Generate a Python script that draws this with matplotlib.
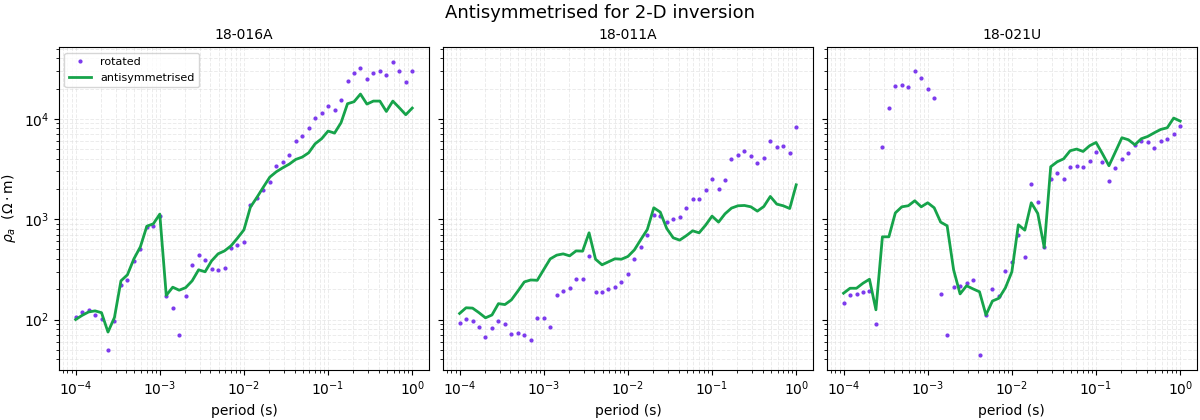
import numpy as np
import matplotlib
matplotlib.use("Agg")
import matplotlib.pyplot as plt

# ── data ──────────────────────────────────────────────────────
period = np.logspace(-4, 0, 53)   # 13 periods per decade
sites = ["18-016A", "18-011A", "18-021U"]

rot_016A = [106, 119, 124, 111, 102, 50, 97, 222, 249, 384, 503, 840, 859, 1072,
            172, 131, 70, 172, 351, 441, 393, 320, 313, 327, 518, 555, 594, 1390,
            1633, 1960, 2355, 3400, 3727, 4377, 6035, 6770, 8135, 10240, 11480,
            13490, 12300, 15460, 23900, 28720, 32220, 25050, 28720, 30080, 27460,
            37000, 30080, 23390, 30080]
anti_016A = [100, 110, 119, 122, 117, 75, 105, 243, 279, 402, 530, 851, 898, 1122,
             174, 210, 196, 208, 243, 313, 299, 384, 451, 483, 542, 647, 783, 1318,
             1645, 2084, 2624, 2965, 3251, 3533, 3935, 4150, 4582, 5636, 6325,
             7540, 7200, 9130, 14120, 14770, 17620, 14000, 15000, 15000, 11830,
             15000, 12880, 10970, 12780]

rot_011A = [93, 102, 97, 85, 67, 83, 97, 91, 72, 74, 70, 63, 104, 104, 85, 176,
            193, 207, 254, 254, 431, 189, 189, 202, 212, 237, 285, 403, 530, 698,
            1104, 1072, 940, 1007, 1055, 1298, 1596, 1596, 1960, 2523, 2006, 2466,
            3990, 4377, 4800, 4277, 3640, 4085, 6035, 5260, 5380, 4582, 8320]
anti_011A = [115, 131, 130, 117, 104, 111, 144, 141, 157, 192, 237, 248, 246, 315,
             402, 438, 451, 431, 483, 480, 731, 399, 351, 376, 403, 399, 425, 494,
             627, 789, 1298, 1175, 807, 652, 618, 683, 765, 731, 871, 1072, 934,
             1130, 1288, 1359, 1369, 1327, 1202, 1337, 1683, 1412, 1359, 1277, 2198]

rot_021U = [147, 176, 180, 189, 193, 91, 5260, 12880, 21330, 21830, 20850, 30080,
            25630, 19910, 16200, 180, 70, 212, 217, 232, 249, 44, 110, 202, 172,
            305, 376, 698, 421, 2250, 1490, 530, 2523, 2897, 2523, 3326, 3404, 3326,
            3815, 4690, 3727, 2409, 3251, 3990, 4582, 5508, 6035, 5900, 5140, 6035,
            6325, 7085, 8510]
anti_021U = [183, 205, 205, 230, 252, 125, 667, 667, 1155, 1327, 1360, 1525, 1327,
             1456, 1298, 934, 859, 313, 180, 217, 202, 189, 111, 153, 163, 207, 299,
             879, 777, 1456, 1140, 522, 3326, 3727, 3990, 4800, 4990, 4725, 5380,
             5810, 4477, 3404, 4690, 6470, 6180, 5508, 6325, 6670, 7250, 7830, 8130,
             10160, 9480]

rotated = [rot_016A, rot_011A, rot_021U]
antisym = [anti_016A, anti_011A, anti_021U]

# ── plot ──────────────────────────────────────────────────────
fig, axes = plt.subplots(1, 3, figsize=(12, 4.2), dpi=100, sharey=True)
fig.subplots_adjust(left=0.049, right=0.9975, top=0.888, bottom=0.119, wspace=0.037)

for ax, site, rot, anti in zip(axes, sites, rotated, antisym):
    ax.loglog(period, rot, ".", color="#7c3aed", markersize=4, label="rotated")
    ax.loglog(period, anti, "-", color="#16a34a", linewidth=2, label="antisymmetrised")
    ax.grid(True, which="both", linestyle="--", color="#dddddd", linewidth=0.7, alpha=0.55)
    ax.set_title(site, fontsize=10)
    ax.set_xlabel("period (s)", fontsize=10)

axes[0].set_ylabel(r"$\rho_a$  ($\Omega\cdot$m)", fontsize=10)
axes[0].legend(loc="upper left", fontsize=8)
fig.suptitle("Antisymmetrised for 2-D inversion", fontsize=13, y=0.99)

fig.savefig("out.png", dpi=100)
plt.close(fig)
